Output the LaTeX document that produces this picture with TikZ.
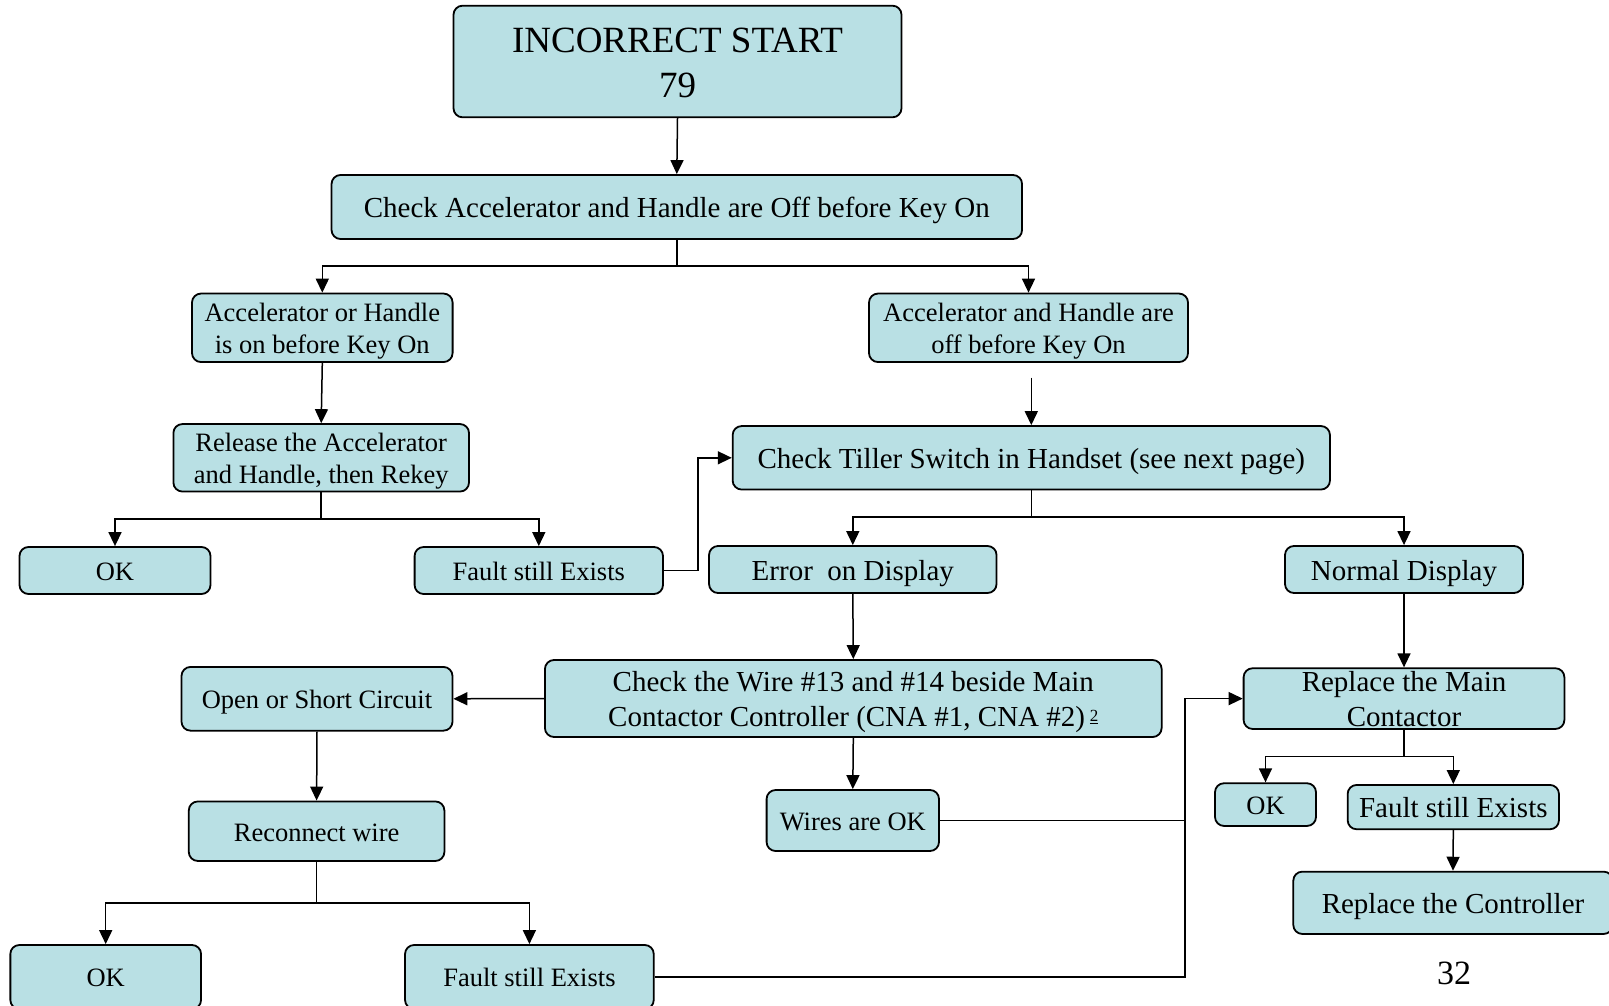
\documentclass[tikz,border=0pt]{standalone}
\usepackage{fontspec}
\setmainfont{Liberation Serif}
\usetikzlibrary{arrows.meta}
\definecolor{boxfill}{RGB}{185,224,228}
\newcommand\topst{\rule{0pt}{0.99em}}
\newcommand\botst{\rule[-0.25em]{0pt}{0.25em}}
\begin{document}
\begin{tikzpicture}[x=1pt,y=-1pt,
  box/.style={draw=black, line width=1.8pt, fill=boxfill, rounded corners=9pt, inner sep=0pt, align=center},
  big/.style={font=\fontsize{29}{34.8}\selectfont},
  small/.style={font=\fontsize{26.5}{31.5}\selectfont},
  arr/.style={line width=1.5pt, -{Triangle[length=14pt,width=13pt]}},
  ln/.style={line width=1.5pt}]
\useasboundingbox (0,0) rectangle (1609,1006);
\clip (0,0) rectangle (1609,1006);

% nodes
\node[box, minimum width=448pt, minimum height=111.6pt, font=\fontsize{37}{45}\selectfont] (start) at (677.5,61.5) {\topst INCORRECT START\\79\botst};
\node[box, big, minimum width=690.5pt, minimum height=64pt] (check) at (676.8,207) {\topst Check Accelerator and Handle are Off before Key On\botst};
\node[box, small, minimum width=260.6pt, minimum height=68.5pt] (on) at (322.3,327.8) {\topst Accelerator or Handle\\is on before Key On\botst};
\node[box, small, minimum width=319pt, minimum height=68.5pt] (off) at (1028.5,327.8) {\topst Accelerator and Handle are\\off before Key On\botst};
\node[box, small, minimum width=295.6pt, minimum height=67.5pt] (release) at (321.2,457.8) {\topst Release the Accelerator\\and Handle, then Rekey\botst};
\node[box, big, minimum width=597.3pt, minimum height=63.5pt] (tiller) at (1031.3,457.8) {\topst Check Tiller Switch in Handset (see next page)\botst};
\node[box, small, minimum width=191pt, minimum height=47pt] (ok1) at (115,570.5) {\topst OK\botst};
\node[box, small, minimum width=248.4pt, minimum height=47pt] (fault1) at (538.8,570.5) {\topst Fault still Exists\botst};
\node[box, big, minimum width=287.5pt, minimum height=47pt] (error) at (852.8,569.5) {\topst Error\ \ on Display\botst};
\node[box, big, minimum width=238pt, minimum height=47pt] (normal) at (1404,569.5) {\topst Normal Display\botst};
\node[box, big, minimum width=616.7pt, minimum height=77pt] (wire) at (853.3,698.5) {\topst Check the Wire \#13 and \#14 beside Main\\Contactor Controller (CNA \#1, CNA \#2)\,\raisebox{0.35ex}{\fontsize{17}{20}\selectfont\underline{2}}\botst};
\node[box, small, minimum width=271pt, minimum height=63.7pt] (open) at (317,698.8) {\topst Open or Short Circuit\botst};
\node[box, small, minimum width=255.6pt, minimum height=59.5pt] (reconnect) at (316.6,831.2) {\topst Reconnect wire\botst};
\node[box, small, minimum width=190.7pt, minimum height=64pt] (ok2) at (105.7,977) {\topst OK\botst};
\node[box, small, minimum width=248.7pt, minimum height=64pt] (fault2) at (529.4,977) {\topst Fault still Exists\botst};
\node[box, small, minimum width=172.4pt, minimum height=61pt] (wok) at (852.8,820.5) {\topst Wires are OK\botst};
\node[box, minimum width=320.8pt, minimum height=60.7pt] (rmain) at (1404,698.6) {};
\node[big, align=center, inner sep=0pt] (rmaintext) at (1404,698.6) {\topst Replace the Main\\Contactor\botst};
\node[box, small, minimum width=101pt, minimum height=42.7pt] (ok3) at (1265.5,804.6) {\topst OK\botst};
\node[box, big, minimum width=211.3pt, minimum height=44.3pt] (fault3) at (1453.3,807.1) {\topst Fault still Exists\botst};
\node[box, big, minimum width=319.4pt, minimum height=62.3pt] (rctrl) at (1453,902.8) {\topst Replace the Controller\botst};
\node[font=\fontsize{34}{40}\selectfont, inner sep=0pt] (page) at (1454,973) {32};

% junctions
\coordinate (j1) at (676.8,266);
\coordinate (offarr) at (1031.3,377.6);
\coordinate (j2) at (321.2,519);
\coordinate (j3) at (698,570.5);
\coordinate (j4) at (1031.3,517);
\coordinate (j5) at (316.6,903);
\coordinate (j6) at (1185,977);
\coordinate (j7) at (1404,756.7);

% connectors
\draw[arr] (start.south) -- (check.north);
\draw[ln] (check.south) -- (j1);
\draw[arr] (j1) -| (on.north);
\draw[arr] (j1) -| (off.north);
\draw[arr] (on.south) -- (release.north);
\draw[arr] (offarr) -- (tiller.north);
\draw[ln] (release.south) -- (j2);
\draw[arr] (j2) -| (ok1.north);
\draw[arr] (j2) -| (fault1.north);
\draw[arr] (fault1.east) -- (j3) |- (tiller.west);
\draw[ln] (tiller.south) -- (j4);
\draw[arr] (j4) -| (error.north);
\draw[arr] (j4) -| (normal.north);
\draw[arr] (error.south) -- (wire.north);
\draw[arr] (wire.west) -- (open.east);
\draw[arr] (open.south) -- (reconnect.north);
\draw[ln] (reconnect.south) -- (j5);
\draw[arr] (j5) -| (ok2.north);
\draw[arr] (j5) -| (fault2.north);
\draw[arr] (wire.south) -- (wok.north);
\draw[arr] (fault2.east) -- (j6) |- (rmain.west);
\draw[ln] (wok.east) -- (wok.east -| j6);
\draw[arr] (normal.south) -- (rmain.north);
\draw[ln] (rmain.south) -- (j7);
\draw[arr] (j7) -| (ok3.north);
\draw[arr] (j7) -| (fault3.north);
\draw[arr] (fault3.south) -- (rctrl.north);
\end{tikzpicture}
\end{document}
